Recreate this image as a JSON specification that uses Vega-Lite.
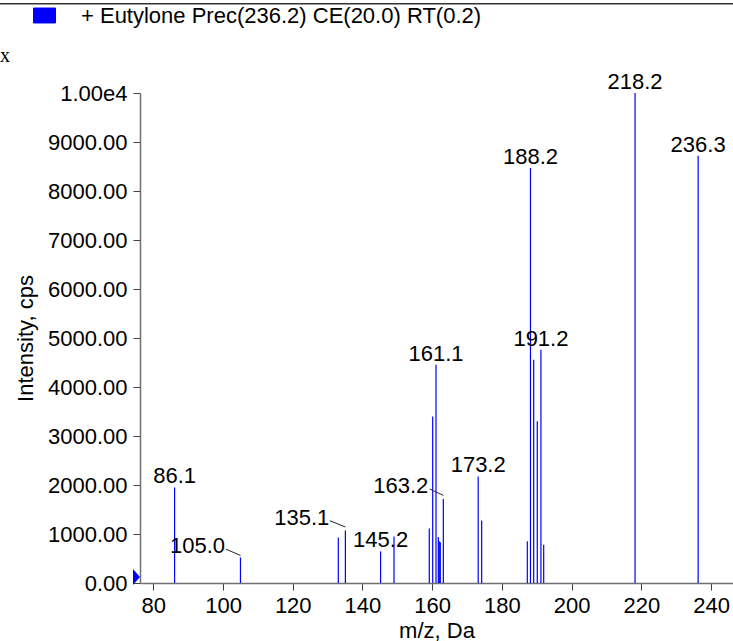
{
  "$schema": "https://vega.github.io/schema/vega-lite/v6.json",
  "width": 593,
  "height": 490,
  "autosize": "none",
  "padding": {"left": 140, "top": 93, "right": 0, "bottom": 58},
  "background": "white",
  "config": {"view": {"stroke": null}, "font": "Liberation Sans"},
  "datasets": {
    "peaks": [
      {"mz": 86.1, "intensity": 1950, "label": "86.1"},
      {"mz": 105.0, "intensity": 520},
      {"mz": 133.07, "intensity": 930},
      {"mz": 135.1, "intensity": 1073},
      {"mz": 145.2, "intensity": 645, "label": "145.2"},
      {"mz": 149.05, "intensity": 950},
      {"mz": 159.17, "intensity": 1110},
      {"mz": 160.15, "intensity": 3400},
      {"mz": 161.1, "intensity": 4455, "label": "161.1"},
      {"mz": 161.76, "intensity": 940},
      {"mz": 162.04, "intensity": 850},
      {"mz": 162.33, "intensity": 830},
      {"mz": 163.2, "intensity": 1714},
      {"mz": 173.2, "intensity": 2176, "label": "173.2"},
      {"mz": 174.2, "intensity": 1278},
      {"mz": 187.29, "intensity": 850},
      {"mz": 188.2, "intensity": 8470, "label": "188.2"},
      {"mz": 189.12, "intensity": 4557},
      {"mz": 190.15, "intensity": 3300},
      {"mz": 191.2, "intensity": 4761, "label": "191.2"},
      {"mz": 191.99, "intensity": 780},
      {"mz": 218.2, "intensity": 10000, "label": "218.2"},
      {"mz": 236.3, "intensity": 8720, "label": "236.3"}
    ],
    "annotations": [
      {"label": "105.0", "label_mz": 92.68, "label_int": 747, "start_mz": 100.85, "start_int": 690, "end_mz": 105.0, "end_int": 563},
      {"label": "135.1", "label_mz": 122.57, "label_int": 1333, "start_mz": 130.64, "start_int": 1271, "end_mz": 135.1, "end_int": 1143},
      {"label": "163.2", "label_mz": 151.0, "label_int": 1986, "start_mz": 159.3, "start_int": 1918, "end_mz": 163.2, "end_int": 1788}
    ]
  },
  "layer": [
    {
      "data": {"name": "peaks"},
      "mark": {"type": "rule", "strokeWidth": 1.2},
      "encoding": {
        "x": {
          "field": "mz", "type": "quantitative",
          "scale": {"domain": [76.18, 246.3], "nice": false, "zero": false},
          "axis": {
            "values": [80, 90, 100, 110, 120, 130, 140, 150, 160, 170, 180, 190, 200, 210, 220, 230, 240],
            "labelExpr": "datum.value % 20 === 0 ? format(datum.value, 'd') : ''",
            "tickSize": {"condition": {"test": "datum.value % 20 === 0", "value": 7}, "value": 4},
            "labelFont": "Liberation Sans", "labelFontSize": 22, "labelColor": "black",
            "labelPadding": 5, "labelFlush": false, "labelOverlap": false,
            "domainColor": "#707070", "domainWidth": 1.5,
            "tickColor": "#404040", "tickWidth": 1,
            "title": "m/z, Da", "titleFont": "Liberation Sans", "titleFontSize": 22,
            "titleFontWeight": "normal", "titleColor": "black", "titlePadding": 4,
            "grid": false
          }
        },
        "y": {
          "field": "intensity", "type": "quantitative",
          "scale": {"domain": [0, 10000], "nice": false},
          "axis": {
            "values": [0, 500, 1000, 1500, 2000, 2500, 3000, 3500, 4000, 4500, 5000, 5500, 6000, 6500, 7000, 7500, 8000, 8500, 9000, 9500, 10000],
            "labelExpr": "datum.value === 10000 ? '1.00e4' : (datum.value % 1000 === 0 ? format(datum.value, '.2f') : '')",
            "tickSize": {"condition": {"test": "datum.value % 1000 === 0", "value": 7}, "value": 4},
            "labelFont": "Liberation Sans", "labelFontSize": 22, "labelColor": "black",
            "labelPadding": 6, "labelFlush": false, "labelOverlap": false,
            "domainColor": "#707070", "domainWidth": 1.5,
            "tickColor": "#404040", "tickWidth": 1,
            "title": "Intensity, cps", "titleFont": "Liberation Sans", "titleFontSize": 22,
            "titleFontWeight": "normal", "titleColor": "black", "titlePadding": 10,
            "grid": false
          }
        },
        "y2": {"datum": 0},
        "color": {
          "datum": "+ Eutylone Prec(236.2) CE(20.0) RT(0.2)",
          "scale": {"range": ["#0000ff"]},
          "legend": {
            "orient": "none", "legendX": -107, "legendY": -89,
            "title": null, "padding": 0,
            "labelFont": "Liberation Sans", "labelFontSize": 22, "labelColor": "black",
            "labelOffset": 25, "labelLimit": 0,
            "symbolSize": 484,
            "symbolType": "M-1,-0.68H1V0.68H-1Z",
            "encode": {
              "symbols": {
                "update": {
                  "fill": {"value": "#0000ff"},
                  "fillOpacity": {"value": 1},
                  "stroke": {"value": "#222222"},
                  "strokeWidth": {"value": 1},
                  "shape": {"value": "M-1,-0.68H1V0.68H-1Z"},
                  "size": {"value": 484}
                }
              }
            }
          }
        }
      }
    },
    {
      "data": {"name": "peaks"},
      "transform": [{"filter": "isValid(datum.label)"}],
      "mark": {"type": "text", "baseline": "alphabetic", "align": "center", "dy": -4, "fontSize": 22, "font": "Liberation Sans", "color": "black"},
      "encoding": {
        "x": {"field": "mz", "type": "quantitative"},
        "y": {"field": "intensity", "type": "quantitative"},
        "text": {"field": "label"}
      }
    },
    {
      "data": {"name": "annotations"},
      "mark": {"type": "text", "baseline": "middle", "align": "center", "fontSize": 22, "font": "Liberation Sans", "color": "black"},
      "encoding": {
        "x": {"field": "label_mz", "type": "quantitative"},
        "y": {"field": "label_int", "type": "quantitative"},
        "text": {"field": "label"}
      }
    },
    {
      "data": {"name": "annotations"},
      "mark": {"type": "rule", "color": "#222222", "strokeWidth": 1},
      "encoding": {
        "x": {"field": "start_mz", "type": "quantitative"},
        "y": {"field": "start_int", "type": "quantitative"},
        "x2": {"field": "end_mz"},
        "y2": {"field": "end_int"}
      }
    },
    {
      "data": {"values": [{}]},
      "mark": {"type": "point", "filled": true, "color": "#0000ff", "opacity": 1, "size": 256, "shape": "M-0.44,-1L0.44,0L-0.44,1Z"},
      "encoding": {
        "x": {"datum": 75.18},
        "y": {"datum": 120}
      }
    },
    {
      "data": {"values": [{}]},
      "mark": {"type": "rule", "color": "#333333", "strokeWidth": 1.5},
      "encoding": {
        "x": {"datum": 36.0},
        "x2": {"datum": 246.3},
        "y": {"datum": 11822}
      }
    },
    {
      "data": {"values": [{}]},
      "mark": {"type": "text", "text": "x", "align": "left", "baseline": "alphabetic", "font": "Liberation Serif", "fontSize": 20, "color": "black"},
      "encoding": {
        "x": {"datum": 36.0},
        "y": {"datum": 10637}
      }
    }
  ]
}
